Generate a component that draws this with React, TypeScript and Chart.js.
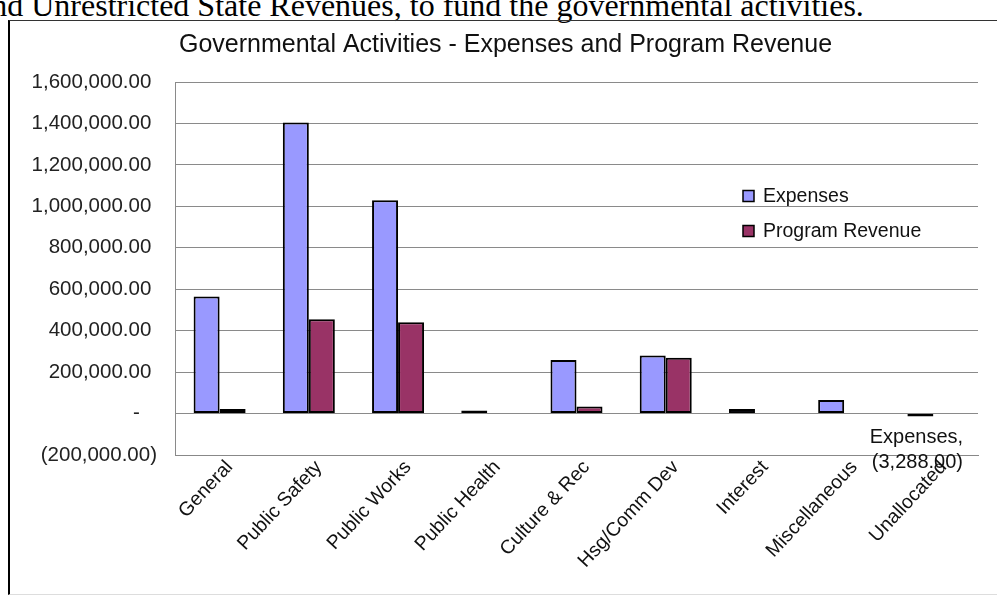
import React, { useEffect, useRef } from "react";
import { Chart, registerables } from "chart.js";

Chart.register(...registerables);

// ---- data ----
const categories = [
  "General",
  "Public Safety",
  "Public Works",
  "Public Health",
  "Culture & Rec",
  "Hsg/Comm Dev",
  "Interest",
  "Miscellaneous",
  "Unallocated",
];
const expenses = [565000, 1404000, 1029000, 5000, 259000, 280000, 22000, 66000, -3288];
const programRevenue = [22000, 455000, 441000, 0, 34000, 269000, 0, 0, 0];
const seriesNames = ["Expenses", "Program Revenue"];
const seriesColors = ["#9999FF", "#993366"];
const yMin = -200000;
const yMax = 1600000;
const yStep = 200000;
const titleText = "Governmental Activities - Expenses and Program Revenue";
const introText = "and Unrestricted State Revenues, to fund the governmental activities.";
const labeledSeries = 0;
const labeledIndex = 8;

const FONT = "'Liberation Sans', Arial, sans-serif";

const fmt = (v: number) =>
  Math.abs(v).toLocaleString("en-US", { minimumFractionDigits: 2, maximumFractionDigits: 2 });

const accounting = (v: number) => {
  if (v === 0) return "-   ";
  if (v < 0) return "(" + fmt(v) + ")";
  return fmt(v) + " ";
};

const insideLegend = {
  id: "insideLegend",
  afterDraw(chart: any) {
    const { ctx, chartArea } = chart;
    const x0 = chartArea.left + 568;
    const y0 = chartArea.top + 114;
    ctx.save();
    ctx.font = `19.5px ${FONT}`;
    ctx.textBaseline = "middle";
    ctx.textAlign = "left";
    chart.data.datasets.forEach((ds: any, i: number) => {
      const y = y0 + i * 35;
      ctx.fillStyle = ds.backgroundColor;
      ctx.fillRect(x0, y - 5.5, 11, 11);
      ctx.strokeStyle = "#000";
      ctx.lineWidth = 1.5;
      ctx.strokeRect(x0, y - 5.5, 11, 11);
      ctx.fillStyle = "#111";
      ctx.fillText(ds.label, x0 + 20, y + 1);
    });
    ctx.restore();
  },
};

const pointLabel = {
  id: "pointLabel",
  afterDatasetsDraw(chart: any) {
    const { ctx } = chart;
    const meta = chart.getDatasetMeta(labeledSeries);
    const el = meta.data[labeledIndex];
    if (!el) return;
    const ds = chart.data.datasets[labeledSeries];
    const v = ds.data[labeledIndex] as number;
    const base = chart.scales.y.getPixelForValue(0);
    ctx.save();
    ctx.font = `20px ${FONT}`;
    ctx.fillStyle = "#111";
    ctx.textAlign = "center";
    ctx.textBaseline = "middle";
    ctx.fillText(ds.label + ",", el.x - 4, base + 24);
    ctx.fillText(v < 0 ? "(" + fmt(v) + ")" : fmt(v), el.x - 3, base + 49);
    ctx.restore();
  },
};

function BarChart() {
  const ref = useRef<HTMLCanvasElement | null>(null);
  useEffect(() => {
    if (!ref.current) return;
    const chart = new Chart(ref.current, {
      type: "bar",
      data: {
        labels: categories,
        datasets: [
          {
            label: seriesNames[0],
            data: expenses,
            backgroundColor: seriesColors[0],
            borderColor: "#000",
            borderWidth: 2,
            borderSkipped: false,
            minBarLength: 3,
            categoryPercentage: 0.583,
            barPercentage: 1,
          },
          {
            label: seriesNames[1],
            data: programRevenue,
            backgroundColor: seriesColors[1],
            borderColor: "#000",
            borderWidth: 2,
            borderSkipped: false,
            categoryPercentage: 0.583,
            barPercentage: 1,
          },
        ],
      },
      options: {
        responsive: false,
        animation: false,
        devicePixelRatio: 1,
        layout: { padding: { left: 33, right: 19, top: 0, bottom: 0 } },
        plugins: {
          legend: { display: false },
          tooltip: { enabled: false },
          title: {
            display: true,
            text: titleText,
            color: "#111",
            font: { family: FONT, size: 25, weight: "normal" },
            padding: { top: 30, bottom: 22 },
          },
        },
        scales: {
          x: {
            grid: { display: false, drawTicks: false },
            border: { display: true, color: "#888" },
            ticks: {
              autoSkip: false,
              minRotation: 47,
              maxRotation: 47,
              padding: 1,
              labelOffset: 10,
              color: "#111",
              font: { family: FONT, size: 19.5 },
            },
            afterFit: (s: any) => {
              s.height = 142;
            },
          },
          y: {
            min: yMin,
            max: yMax,
            ticks: {
              stepSize: yStep,
              padding: 18,
              color: "#222",
              font: { family: FONT, size: 20.5 },
              callback: (v: any) => accounting(Number(v)),
            },
            grid: { color: "#8a8a8a", drawTicks: false, lineWidth: 1 },
            border: { display: true, color: "#8a8a8a" },
            afterFit: (s: any) => {
              s.width = 142;
            },
          },
        },
      },
      plugins: [insideLegend, pointLabel],
    });
    return () => chart.destroy();
  }, []);
  return (
    <canvas
      ref={ref}
      width={997}
      height={597}
      style={{ position: "absolute", left: 0, top: 0, width: 997, height: 597 }}
    />
  );
}

export default function App() {
  return (
    <div
      style={{
        position: "fixed",
        left: 0,
        top: 0,
        width: 997,
        height: 597,
        overflow: "hidden",
        background: "#fff",
      }}
    >
      <div
        style={{
          position: "absolute",
          left: -23,
          top: -11,
          fontFamily: "'Liberation Serif', 'Times New Roman', serif",
          fontSize: 32,
          lineHeight: "32px",
          whiteSpace: "nowrap",
          color: "#000",
        }}
      >
        {introText}
      </div>
      <div
        style={{
          position: "absolute",
          left: 8,
          top: 20,
          width: 1000,
          height: 573,
          borderLeft: "2px solid #000",
          borderTop: "1px solid #333",
          borderBottom: "1px solid #ddd",
        }}
      />
      <BarChart />
    </div>
  );
}
